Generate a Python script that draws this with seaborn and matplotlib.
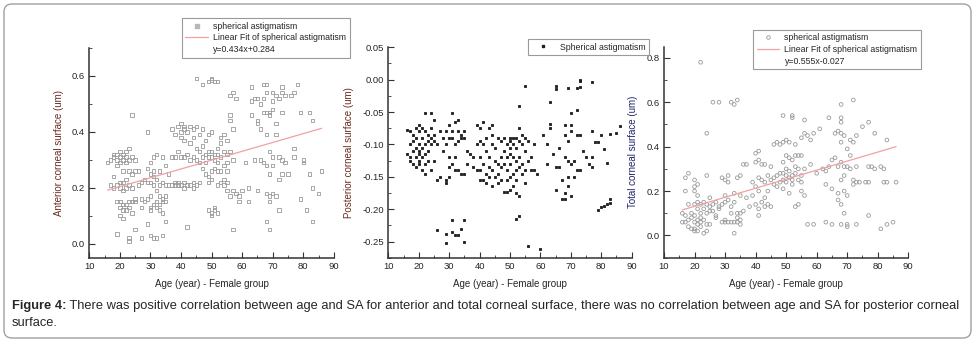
"""
Spherical astigmatism vs. age, female group (three corneal surfaces).
"""

from typing import Final

import matplotlib.pyplot as plt
import matplotlib.ticker as mtick
import numpy as np
import pandas as pd
import seaborn as sns
from matplotlib.lines import Line2D
from matplotlib.patches import FancyBboxPatch
from matplotlib.transforms import IdentityTransform

sns.set_theme(style='white')
plt.rcParams['font.family'] = ['Liberation Sans', 'DejaVu Sans']
plt.rcParams['axes.unicode_minus'] = False

###############
## Data read ##
###############

# (age, spherical astigmatism)
ANTERIOR: Final[list] = [
    (16, 0.29), (17, 0.30), (17, 0.21), (18, 0.32), (18, 0.31), (18, 0.24), (18, 0.20), (19, 0.30),
    (19, 0.32), (19, 0.28), (19, 0.21), (19, 0.15), (19, 0.035), (20, 0.31), (20, 0.29), (20, 0.33),
    (20, 0.22), (20, 0.20), (20, 0.15), (20, 0.13), (20, 0.10), (21, 0.32), (21, 0.30), (21, 0.26),
    (21, 0.22), (21, 0.19), (21, 0.14), (21, 0.12), (21, 0.09), (22, 0.31), (22, 0.29), (22, 0.23),
    (22, 0.20), (22, 0.14), (22, 0.12), (22, 0.33), (23, 0.34), (23, 0.30), (23, 0.26), (23, 0.21),
    (23, 0.15), (23, 0.13), (23, 0.02), (23, 0.01), (24, 0.46), (24, 0.31), (24, 0.25), (24, 0.20),
    (24, 0.15), (24, 0.11), (25, 0.30), (25, 0.26), (25, 0.16), (25, 0.15), (25, 0.05), (26, 0.26),
    (26, 0.21), (27, 0.22), (27, 0.16), (27, 0.13), (27, 0.02), (28, 0.23), (28, 0.15), (29, 0.40),
    (29, 0.27), (29, 0.22), (29, 0.16), (29, 0.07), (30, 0.29), (30, 0.25), (30, 0.22), (30, 0.17),
    (30, 0.13), (30, 0.12), (30, 0.03), (31, 0.31), (31, 0.26), (31, 0.24), (31, 0.21), (31, 0.14),
    (31, 0.02), (32, 0.32), (32, 0.23), (32, 0.19), (32, 0.15), (32, 0.13), (32, 0.02), (33, 0.26),
    (33, 0.21), (33, 0.17), (33, 0.14), (33, 0.12), (34, 0.31), (34, 0.22), (34, 0.16), (34, 0.15),
    (34, 0.11), (34, 0.03), (35, 0.28), (35, 0.21), (35, 0.17), (35, 0.15), (35, 0.08), (36, 0.25),
    (36, 0.21), (37, 0.41), (37, 0.31), (37, 0.21), (38, 0.39), (38, 0.31), (38, 0.22), (38, 0.21),
    (39, 0.42), (39, 0.33), (39, 0.22), (39, 0.21), (40, 0.43), (40, 0.40), (40, 0.38), (40, 0.31),
    (40, 0.21), (41, 0.42), (41, 0.41), (41, 0.37), (41, 0.31), (41, 0.22), (41, 0.20), (42, 0.40),
    (42, 0.32), (42, 0.21), (42, 0.06), (43, 0.42), (43, 0.36), (43, 0.30), (43, 0.21), (44, 0.41),
    (44, 0.38), (44, 0.31), (44, 0.22), (44, 0.20), (45, 0.42), (45, 0.59), (45, 0.34), (45, 0.30),
    (45, 0.21), (46, 0.39), (46, 0.33), (46, 0.29), (46, 0.22), (47, 0.57), (47, 0.41), (47, 0.35),
    (47, 0.31), (47, 0.27), (48, 0.37), (48, 0.32), (48, 0.29), (48, 0.25), (49, 0.58), (49, 0.39),
    (49, 0.33), (49, 0.31), (49, 0.24), (49, 0.22), (49, 0.12), (50, 0.59), (50, 0.585), (50, 0.40),
    (50, 0.33), (50, 0.31), (50, 0.26), (50, 0.23), (50, 0.11), (50, 0.10), (51, 0.58), (51, 0.32),
    (51, 0.30), (51, 0.27), (51, 0.13), (51, 0.12), (52, 0.58), (52, 0.34), (52, 0.32), (52, 0.29),
    (52, 0.26), (52, 0.21), (52, 0.11), (53, 0.38), (53, 0.36), (53, 0.31), (53, 0.26), (53, 0.22),
    (54, 0.39), (54, 0.33), (54, 0.28), (54, 0.23), (54, 0.21), (55, 0.37), (55, 0.32), (55, 0.29),
    (55, 0.26), (55, 0.22), (55, 0.19), (56, 0.53), (56, 0.46), (56, 0.44), (56, 0.33), (56, 0.17),
    (57, 0.54), (57, 0.41), (57, 0.30), (57, 0.19), (57, 0.05), (58, 0.52), (58, 0.18), (59, 0.15),
    (59, 0.17), (60, 0.19), (61, 0.29), (62, 0.20), (62, 0.15), (63, 0.56), (63, 0.51), (63, 0.46),
    (64, 0.52), (64, 0.30), (65, 0.52), (65, 0.44), (65, 0.43), (65, 0.19), (66, 0.50), (66, 0.30),
    (66, 0.41), (67, 0.57), (67, 0.52), (67, 0.47), (67, 0.29), (68, 0.57), (68, 0.54), (68, 0.47),
    (68, 0.39), (68, 0.28), (68, 0.18), (68, 0.08), (69, 0.47), (69, 0.46), (69, 0.33), (69, 0.25),
    (69, 0.17), (69, 0.15), (69, 0.05), (70, 0.54), (70, 0.51), (70, 0.48), (70, 0.31), (70, 0.28),
    (70, 0.18), (71, 0.53), (71, 0.43), (71, 0.39), (71, 0.17), (72, 0.52), (72, 0.31), (72, 0.23),
    (72, 0.12), (73, 0.56), (73, 0.54), (73, 0.47), (73, 0.30), (73, 0.25), (74, 0.53), (74, 0.29),
    (75, 0.25), (76, 0.53), (77, 0.54), (77, 0.34), (77, 0.31), (78, 0.57), (79, 0.47), (79, 0.16),
    (80, 0.30), (80, 0.29), (81, 0.12), (82, 0.47), (82, 0.25), (83, 0.44), (83, 0.20), (83, 0.08),
    (85, 0.18), (86, 0.26),
]

# (age, spherical astigmatism)
POSTERIOR: Final[list] = [
    (16, -0.078), (16, -0.115), (17, -0.08), (17, -0.10), (17, -0.12), (17, -0.125), (18, -0.085),
    (18, -0.095), (18, -0.11), (18, -0.13), (19, -0.075), (19, -0.09), (19, -0.105), (19, -0.12),
    (19, -0.135), (20, -0.07), (20, -0.08), (20, -0.10), (20, -0.11), (20, -0.115), (20, -0.125),
    (20, -0.13), (21, -0.075), (21, -0.09), (21, -0.105), (21, -0.12), (21, -0.14), (22, -0.052),
    (22, -0.08), (22, -0.10), (22, -0.115), (22, -0.13), (22, -0.145), (23, -0.085), (23, -0.095),
    (23, -0.11), (23, -0.125), (24, -0.052), (24, -0.075), (24, -0.09), (24, -0.10), (24, -0.14),
    (25, -0.062), (25, -0.085), (25, -0.095), (25, -0.125), (26, -0.10), (26, -0.155), (26, -0.232),
    (27, -0.08), (27, -0.15), (28, -0.09), (28, -0.11), (29, -0.08), (29, -0.10), (29, -0.155),
    (29, -0.16), (29, -0.238), (29, -0.252), (30, -0.07), (30, -0.09), (30, -0.12), (30, -0.135),
    (30, -0.15), (31, -0.052), (31, -0.08), (31, -0.09), (31, -0.13), (31, -0.216), (31, -0.235),
    (32, -0.065), (32, -0.10), (32, -0.12), (32, -0.14), (32, -0.24), (33, -0.062), (33, -0.08),
    (33, -0.095), (33, -0.14), (33, -0.24), (34, -0.085), (34, -0.09), (34, -0.145), (34, -0.23),
    (35, -0.08), (35, -0.09), (35, -0.145), (35, -0.217), (35, -0.251), (36, -0.11), (36, -0.13),
    (37, -0.115), (38, -0.12), (38, -0.135), (39, -0.07), (39, -0.10), (39, -0.14), (40, -0.075),
    (40, -0.095), (40, -0.12), (40, -0.14), (40, -0.155), (41, -0.065), (41, -0.10), (41, -0.13),
    (41, -0.155), (42, -0.09), (42, -0.11), (42, -0.145), (42, -0.16), (43, -0.075), (43, -0.12),
    (43, -0.135), (43, -0.15), (44, -0.07), (44, -0.085), (44, -0.10), (44, -0.14), (44, -0.165),
    (45, -0.105), (45, -0.125), (45, -0.15), (46, -0.09), (46, -0.13), (46, -0.145), (46, -0.16),
    (47, -0.095), (47, -0.12), (47, -0.135), (47, -0.155), (48, -0.09), (48, -0.11), (48, -0.13),
    (48, -0.173), (49, -0.10), (49, -0.12), (49, -0.14), (49, -0.155), (49, -0.173), (50, -0.09),
    (50, -0.095), (50, -0.105), (50, -0.115), (50, -0.13), (50, -0.15), (50, -0.17), (51, -0.09),
    (51, -0.10), (51, -0.12), (51, -0.145), (51, -0.165), (52, -0.09), (52, -0.105), (52, -0.125),
    (52, -0.14), (52, -0.155), (52, -0.175), (52, -0.215), (53, -0.04), (53, -0.075), (53, -0.095),
    (53, -0.12), (53, -0.135), (53, -0.18), (53, -0.21), (54, -0.085), (54, -0.10), (54, -0.13),
    (54, -0.145), (55, -0.01), (55, -0.09), (55, -0.11), (55, -0.14), (55, -0.16), (56, -0.095),
    (56, -0.125), (56, -0.257), (57, -0.12), (57, -0.14), (58, -0.10), (58, -0.14), (59, -0.145),
    (60, -0.262), (61, -0.085), (62, -0.10), (62, -0.13), (63, -0.035), (63, -0.068), (63, -0.075),
    (64, -0.115), (65, -0.01), (65, -0.015), (65, -0.135), (65, -0.17), (66, -0.105), (66, -0.135),
    (67, -0.185), (67, -0.155), (68, -0.07), (68, -0.085), (68, -0.12), (68, -0.175), (68, -0.185),
    (69, -0.013), (69, -0.095), (69, -0.125), (69, -0.165), (69, -0.15), (70, -0.07), (70, -0.08),
    (70, -0.13), (70, -0.18), (70, -0.052), (71, -0.125), (71, -0.15), (72, -0.013), (72, -0.047),
    (72, -0.085), (72, -0.14), (73, 0.0), (73, -0.002), (73, -0.012), (73, -0.085), (73, -0.14),
    (74, -0.11), (75, -0.12), (76, -0.13), (77, -0.004), (77, -0.08), (77, -0.135), (77, -0.12),
    (78, -0.097), (79, -0.097), (79, -0.202), (80, -0.085), (80, -0.197), (81, -0.107), (81, -0.195),
    (82, -0.128), (82, -0.192), (83, -0.084), (83, -0.19), (83, -0.185), (85, -0.082), (86, -0.071),
]

# (age, spherical astigmatism)
TOTAL: Final[list] = [
    (22, 0.78), (26, 0.60), (28, 0.60), (32, 0.60), (33, 0.59), (34, 0.61), (24, 0.46), (24, 0.27),
    (18, 0.28), (17, 0.26), (17, 0.20), (16, 0.10), (16, 0.06), (17, 0.06), (17, 0.09), (18, 0.14),
    (18, 0.07), (18, 0.04), (19, 0.03), (19, 0.08), (19, 0.10), (20, 0.22), (20, 0.25), (20, 0.20),
    (20, 0.14), (20, 0.09), (20, 0.06), (20, 0.03), (20, 0.02), (21, 0.23), (21, 0.18), (21, 0.15),
    (21, 0.12), (21, 0.07), (21, 0.05), (21, 0.02), (22, 0.14), (22, 0.10), (22, 0.08), (22, 0.06),
    (22, 0.04), (23, 0.15), (23, 0.12), (23, 0.07), (23, 0.01), (24, 0.14), (24, 0.10), (24, 0.05),
    (24, 0.02), (25, 0.17), (25, 0.13), (25, 0.11), (25, 0.05), (26, 0.14), (26, 0.11), (27, 0.15),
    (27, 0.09), (27, 0.08), (28, 0.13), (28, 0.12), (29, 0.26), (29, 0.14), (29, 0.06), (30, 0.25),
    (30, 0.18), (30, 0.15), (30, 0.07), (30, 0.06), (31, 0.27), (31, 0.24), (31, 0.16), (31, 0.06),
    (32, 0.13), (32, 0.10), (32, 0.06), (33, 0.19), (33, 0.15), (33, 0.06), (33, 0.01), (34, 0.26),
    (34, 0.10), (34, 0.08), (34, 0.06), (35, 0.27), (35, 0.18), (35, 0.10), (35, 0.07), (35, 0.05),
    (36, 0.11), (36, 0.32), (37, 0.32), (37, 0.17), (38, 0.13), (39, 0.24), (39, 0.18), (40, 0.37),
    (40, 0.33), (40, 0.22), (40, 0.14), (41, 0.38), (41, 0.34), (41, 0.26), (41, 0.20), (41, 0.12),
    (41, 0.09), (42, 0.32), (42, 0.25), (42, 0.15), (43, 0.32), (43, 0.24), (43, 0.17), (43, 0.13),
    (44, 0.27), (44, 0.20), (44, 0.14), (45, 0.31), (45, 0.25), (45, 0.13), (46, 0.26), (46, 0.23),
    (46, 0.41), (47, 0.42), (47, 0.27), (47, 0.22), (48, 0.41), (48, 0.28), (48, 0.24), (49, 0.54),
    (49, 0.42), (49, 0.33), (49, 0.28), (49, 0.25), (49, 0.21), (50, 0.43), (50, 0.36), (50, 0.30),
    (50, 0.27), (50, 0.24), (51, 0.42), (51, 0.35), (51, 0.29), (51, 0.26), (51, 0.19), (52, 0.54),
    (52, 0.53), (52, 0.34), (52, 0.27), (52, 0.25), (52, 0.23), (53, 0.41), (53, 0.36), (53, 0.31),
    (53, 0.28), (53, 0.13), (54, 0.36), (54, 0.30), (54, 0.25), (54, 0.14), (55, 0.36), (55, 0.27),
    (55, 0.24), (55, 0.44), (55, 0.20), (56, 0.52), (56, 0.46), (56, 0.30), (56, 0.18), (57, 0.45),
    (57, 0.05), (58, 0.43), (58, 0.32), (59, 0.46), (59, 0.05), (60, 0.28), (61, 0.48), (62, 0.30),
    (63, 0.29), (63, 0.23), (63, 0.06), (64, 0.53), (64, 0.31), (65, 0.34), (65, 0.21), (65, 0.05),
    (66, 0.46), (66, 0.35), (67, 0.47), (67, 0.31), (67, 0.19), (67, 0.16), (68, 0.59), (68, 0.53),
    (68, 0.51), (68, 0.46), (68, 0.42), (68, 0.33), (68, 0.25), (68, 0.14), (68, 0.05), (69, 0.45),
    (69, 0.31), (69, 0.27), (69, 0.20), (69, 0.10), (70, 0.39), (70, 0.31), (70, 0.18), (70, 0.05),
    (70, 0.04), (71, 0.43), (71, 0.36), (71, 0.30), (72, 0.61), (72, 0.42), (72, 0.23), (72, 0.25),
    (73, 0.45), (73, 0.31), (73, 0.24), (73, 0.05), (74, 0.24), (75, 0.49), (76, 0.24), (77, 0.51),
    (77, 0.31), (77, 0.24), (77, 0.09), (78, 0.31), (79, 0.46), (79, 0.30), (81, 0.31), (81, 0.03),
    (82, 0.30), (82, 0.24), (83, 0.43), (83, 0.24), (83, 0.05), (85, 0.06), (86, 0.24),
]

# Linear fits as drawn in the picture (slope per year, intercept)
ANTERIOR_FIT: Final[tuple] = (0.00316, 0.141)
TOTAL_FIT: Final[tuple] = (0.00407, 0.050)

# Texts
X_LABEL: Final[str] = 'Age (year) - Female group'
Y_LABELS: Final[list] = ['Anterior corneal surface (um)', 'Posterior corneal surface (um)',
                         'Total corneal surface (um)']
FIT_TEXTS: Final[list] = ['y=0.434x+0.284', 'y=0.555x-0.027']
CAPTION_BOLD: Final[str] = 'Figure 4:'
CAPTION_TEXT: Final[str] = (' There was positive correlation between age and SA for anterior and total corneal '
                            'surface, there was no correlation between age and SA for posterior corneal')
CAPTION_LINE2: Final[str] = 'surface.'

W, H = 975, 342
GREY: Final[str] = '#9a9a9a'
FIT_COLOR: Final[str] = '#f2a0a0'


def style_axis(axis: plt.Axes, ylim: tuple, ymajor: float, yminor: float, yfmt: str, ylabel: str,
               ycolor: str) -> None:
    """
    Gives an axis the Origin-like look of the reference.
    """

    axis.set_xlim(10, 90)
    axis.set_ylim(*ylim)
    axis.xaxis.set_major_locator(mtick.MultipleLocator(10))
    axis.xaxis.set_minor_locator(mtick.MultipleLocator(5))
    axis.yaxis.set_major_locator(mtick.MultipleLocator(ymajor))
    axis.yaxis.set_minor_locator(mtick.MultipleLocator(yminor))
    axis.yaxis.set_major_formatter(mtick.StrMethodFormatter(yfmt))
    axis.tick_params(which='major', direction='in', length=4, width=0.8, labelsize=6.8, color='#333333',
                     pad=3, left=True, bottom=True)
    axis.tick_params(which='minor', direction='in', length=2, width=0.6, color='#333333', left=True, bottom=True)
    for side in ('top', 'right'):
        axis.spines[side].set_visible(False)
    for side in ('left', 'bottom'):
        axis.spines[side].set_color('#333333')
        axis.spines[side].set_linewidth(1.1)
    axis.set_xlabel(X_LABEL, fontsize=7, labelpad=6)
    axis.set_ylabel(ylabel, fontsize=7, color=ycolor, labelpad=6)
    axis.grid(False)


def draw_panel(axis: plt.Axes, points: list, marker: str, face: str, edge: str, size: float) -> pd.DataFrame:
    """
    Draws the scatter of one panel.
    """

    frame = pd.DataFrame(points, columns=['age', 'sa'])
    sns.scatterplot(data=frame, x='age', y='sa', ax=axis, marker=marker, s=size, facecolor=face,
                    edgecolor=edge, linewidth=0.6, legend=False, zorder=2)
    return frame


def draw_fit(axis: plt.Axes, frame: pd.DataFrame, fit: tuple) -> None:
    """
    Draws the linear fit line over the span of the ages.
    """

    xs = np.array([frame['age'].min(), frame['age'].max()])
    fit_frame = pd.DataFrame({'age': xs, 'sa': fit[0] * xs + fit[1]})
    sns.lineplot(data=fit_frame, x='age', y='sa', ax=axis, color=FIT_COLOR, linewidth=0.9, zorder=3)


def fig_legend(handles: list, labels: list, left_px: float, top_px: float) -> None:
    """
    Places a boxed legend with its upper left corner at a pixel position.
    """

    legend = fig.legend(handles, labels, loc='upper left', bbox_to_anchor=(left_px / W, 1 - top_px / H),
                        fontsize=6.3, frameon=True, fancybox=False, edgecolor='#9a9a9a', framealpha=1,
                        borderpad=0.4, labelspacing=0.3, handlelength=2.6, handletextpad=0.6,
                        borderaxespad=0)
    legend.get_frame().set_linewidth(0.8)


# We create the figure and the three axes
fig = plt.figure(figsize=(W / 100, H / 100), dpi=100)
fig.patch.set_facecolor('white')
bottom = (H - 257.7) / H
ax1 = fig.add_axes([89.3 / W, bottom, 244.6 / W, 209.7 / H])
ax2 = fig.add_axes([388.3 / W, bottom, 243.4 / W, 210.4 / H])
ax3 = fig.add_axes([664.0 / W, bottom, 244.3 / W, 211.0 / H])

# Anterior surface
frame1 = draw_panel(ax1, ANTERIOR, 's', 'none', GREY, 6)
draw_fit(ax1, frame1, ANTERIOR_FIT)
style_axis(ax1, (-0.05, 0.70), 0.2, 0.1, '{x:.1f}', Y_LABELS[0], '#6b2b1f')

# Posterior surface
draw_panel(ax2, POSTERIOR, 's', '#1e1e1e', '#1e1e1e', 1.6)
style_axis(ax2, (-0.275, 0.05), 0.05, 0.025, '{x:.2f}', Y_LABELS[1], '#6b2b1f')

# Total surface
frame3 = draw_panel(ax3, TOTAL, 'o', 'none', GREY, 7)
draw_fit(ax3, frame3, TOTAL_FIT)
style_axis(ax3, (-0.10, 0.85), 0.2, 0.1, '{x:.1f}', Y_LABELS[2], '#23236b')

# Legends
blank = Line2D([], [], linestyle='none', marker='none')
fit_handle = Line2D([], [], color=FIT_COLOR, linewidth=0.9)
fig_legend([Line2D([], [], linestyle='none', marker='s', markersize=2.2, markerfacecolor='#b8b8b8',
                   markeredgecolor='#b8b8b8'), fit_handle, blank],
           ['spherical astigmatism', 'Linear Fit of spherical astigmatism', FIT_TEXTS[0]], 181.7, 18.3)
fig_legend([Line2D([], [], linestyle='none', marker='s', markersize=1.5, color='#1e1e1e')],
           ['Spherical astigmatism'], 528, 39)
fig_legend([Line2D([], [], linestyle='none', marker='o', markersize=2.6, markerfacecolor='none',
                   markeredgecolor=GREY, markeredgewidth=0.6), fit_handle, blank],
           ['spherical astigmatism', 'Linear Fit of spherical astigmatism', FIT_TEXTS[1]], 753, 30)

# Caption under the panels
bold_text = fig.text(12 / W, 1 - 309 / H, CAPTION_BOLD, fontsize=9.3, weight='bold', va='baseline')
fig.canvas.draw()
bold_box = bold_text.get_window_extent()
fig.text(bold_box.x1 / W, 1 - 309 / H, CAPTION_TEXT, fontsize=9.3, va='baseline')
fig.text(12 / W, 1 - 326.5 / H, CAPTION_LINE2, fontsize=9.3, va='baseline')

# Rounded frame around the whole figure
fig.patches.append(FancyBboxPatch((4, 4), 967, 334, boxstyle='round,pad=0,rounding_size=8',
                                  transform=IdentityTransform(), facecolor='none', edgecolor='#a0a0a0',
                                  linewidth=1, figure=fig))

fig.savefig('out.png', dpi=100)
